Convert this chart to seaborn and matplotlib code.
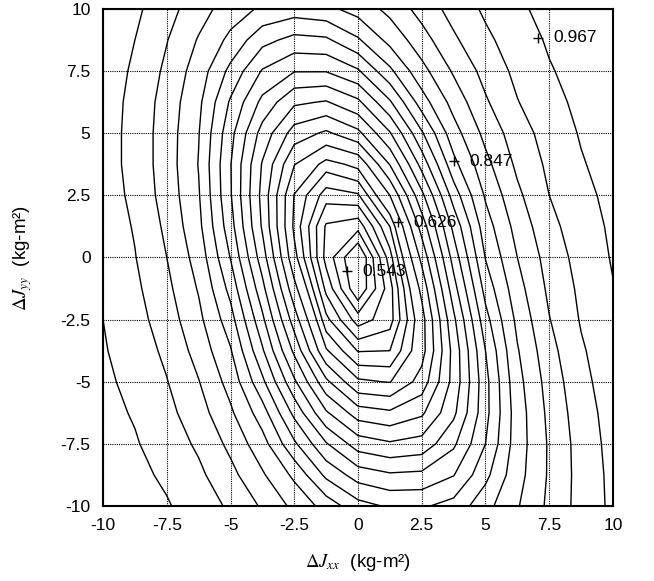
import matplotlib
matplotlib.use("Agg")
import matplotlib.pyplot as plt
import seaborn as sns
import numpy as np

# grid coordinates (kg-m^2)
x_grid = [-10.0, -8.75, -7.5, -6.25, -5.0, -3.75, -2.5, -1.25, 0.0,
          1.25, 2.5, 3.75, 5.0, 6.25, 7.5, 8.75, 10.0]
y_grid = [-10.0, -8.75, -7.5, -6.25, -5.0, -3.75, -2.5, -1.25, 0.0,
          1.25, 2.5, 3.75, 5.0, 6.25, 7.5, 8.75, 10.0]

# surface values; one row per y_grid value (bottom to top)
z_grid = [
    [0.961, 0.953, 0.945, 0.932, 0.915, 0.892, 0.865, 0.838, 0.811, 0.800, 0.800, 0.811, 0.839, 0.869, 0.900, 0.928, 0.948],
    [0.957, 0.949, 0.939, 0.924, 0.902, 0.874, 0.842, 0.798, 0.771, 0.762, 0.764, 0.780, 0.819, 0.862, 0.898, 0.928, 0.949],
    [0.953, 0.945, 0.932, 0.915, 0.889, 0.856, 0.807, 0.761, 0.726, 0.717, 0.723, 0.755, 0.803, 0.859, 0.898, 0.929, 0.951],
    [0.950, 0.941, 0.926, 0.905, 0.875, 0.835, 0.775, 0.717, 0.681, 0.674, 0.688, 0.732, 0.796, 0.859, 0.901, 0.932, 0.953],
    [0.948, 0.936, 0.920, 0.896, 0.862, 0.808, 0.741, 0.675, 0.629, 0.625, 0.657, 0.722, 0.796, 0.863, 0.905, 0.936, 0.956],
    [0.945, 0.932, 0.914, 0.886, 0.849, 0.784, 0.709, 0.628, 0.597, 0.598, 0.639, 0.722, 0.803, 0.869, 0.911, 0.940, 0.959],
    [0.943, 0.928, 0.907, 0.877, 0.834, 0.764, 0.681, 0.602, 0.564, 0.579, 0.639, 0.732, 0.817, 0.877, 0.918, 0.945, 0.962],
    [0.939, 0.924, 0.901, 0.869, 0.818, 0.744, 0.655, 0.581, 0.530, 0.579, 0.654, 0.750, 0.833, 0.886, 0.924, 0.948, 0.966],
    [0.936, 0.920, 0.895, 0.861, 0.802, 0.725, 0.632, 0.566, 0.526, 0.592, 0.676, 0.768, 0.848, 0.895, 0.929, 0.952, 0.969],
    [0.934, 0.917, 0.890, 0.853, 0.790, 0.711, 0.622, 0.569, 0.562, 0.612, 0.701, 0.787, 0.860, 0.904, 0.936, 0.956, 0.971],
    [0.932, 0.913, 0.885, 0.849, 0.783, 0.707, 0.625, 0.591, 0.596, 0.648, 0.731, 0.813, 0.874, 0.914, 0.943, 0.960, 0.974],
    [0.930, 0.911, 0.883, 0.846, 0.782, 0.712, 0.649, 0.619, 0.631, 0.693, 0.767, 0.840, 0.888, 0.924, 0.948, 0.965, 0.977],
    [0.930, 0.911, 0.883, 0.848, 0.788, 0.728, 0.682, 0.666, 0.686, 0.735, 0.800, 0.861, 0.902, 0.932, 0.953, 0.969, 0.980],
    [0.931, 0.912, 0.885, 0.852, 0.800, 0.753, 0.718, 0.712, 0.732, 0.778, 0.836, 0.880, 0.916, 0.942, 0.959, 0.973, 0.983],
    [0.933, 0.915, 0.890, 0.859, 0.819, 0.779, 0.760, 0.760, 0.778, 0.820, 0.863, 0.898, 0.927, 0.949, 0.965, 0.976, 0.987],
    [0.935, 0.919, 0.896, 0.869, 0.841, 0.810, 0.796, 0.799, 0.822, 0.854, 0.885, 0.915, 0.938, 0.955, 0.970, 0.980, 0.991],
    [0.939, 0.924, 0.904, 0.881, 0.859, 0.843, 0.836, 0.841, 0.856, 0.878, 0.904, 0.928, 0.947, 0.963, 0.974, 0.984, 0.994],
]

levels = [0.543, 0.557, 0.571, 0.585, 0.598, 0.612, 0.626, 0.648, 0.670,
          0.692, 0.714, 0.737, 0.759, 0.781, 0.803, 0.825, 0.847, 0.871,
          0.895, 0.919, 0.943, 0.967]

label_x = [-0.44, 1.58, 3.76, 7.07]
label_y = [-0.55, 1.42, 3.88, 8.84]
label_text = ["0.543", "0.626", "0.847", "0.967"]

ticks = [-10, -7.5, -5, -2.5, 0, 2.5, 5, 7.5, 10]
tick_labels = ["-10", "-7.5", "-5", "-2.5", "0", "2.5", "5", "7.5", "10"]

sns.set_theme(style="white")
plt.rcParams["font.family"] = ["Liberation Sans", "DejaVu Sans"]
plt.rcParams["mathtext.fontset"] = "stix"

X, Y = np.meshgrid(x_grid, y_grid)
Z = np.array(z_grid)

fig = plt.figure(figsize=(6.54, 5.81), dpi=100)
ax = fig.add_axes([0.1575, 0.1291, 0.7798, 0.8554])
ax.contour(X, Y, Z, levels=levels, colors="black", linewidths=1.0, zorder=3)
ax.plot(label_x, label_y, linestyle="none", marker="+", color="black",
        markersize=7, markeredgewidth=1.0, zorder=4)
for lx, ly, t in zip(label_x, label_y, label_text):
    ax.annotate(t, xy=(lx, ly), xytext=(11, 0), textcoords="offset points",
                fontsize=12.5, va="center", ha="left", color="black", zorder=4)
ax.set_xlim(-10, 10)
ax.set_ylim(-10, 10)
ax.set_xticks(ticks)
ax.set_xticklabels(tick_labels)
ax.set_yticks(ticks)
ax.set_yticklabels(tick_labels)
ax.tick_params(length=0, pad=9, labelsize=12.5, colors="black")
ax.grid(True, color="black", linestyle=(0, (1, 1)), linewidth=0.8, zorder=1)
ax.set_axisbelow(True)
for s in ax.spines.values():
    s.set_color("black")
    s.set_linewidth(1.5)
ax.set_xlabel(r"$\Delta J_{xx}$  (kg-m²)", fontsize=13.5, color="black")
ax.set_ylabel(r"$\Delta J_{yy}$  (kg-m²)", fontsize=13.5, color="black")
ax.xaxis.set_label_coords(0.5, -0.093)
ax.yaxis.set_label_coords(-0.135, 0.5)
fig.savefig("out.png", dpi=100)
